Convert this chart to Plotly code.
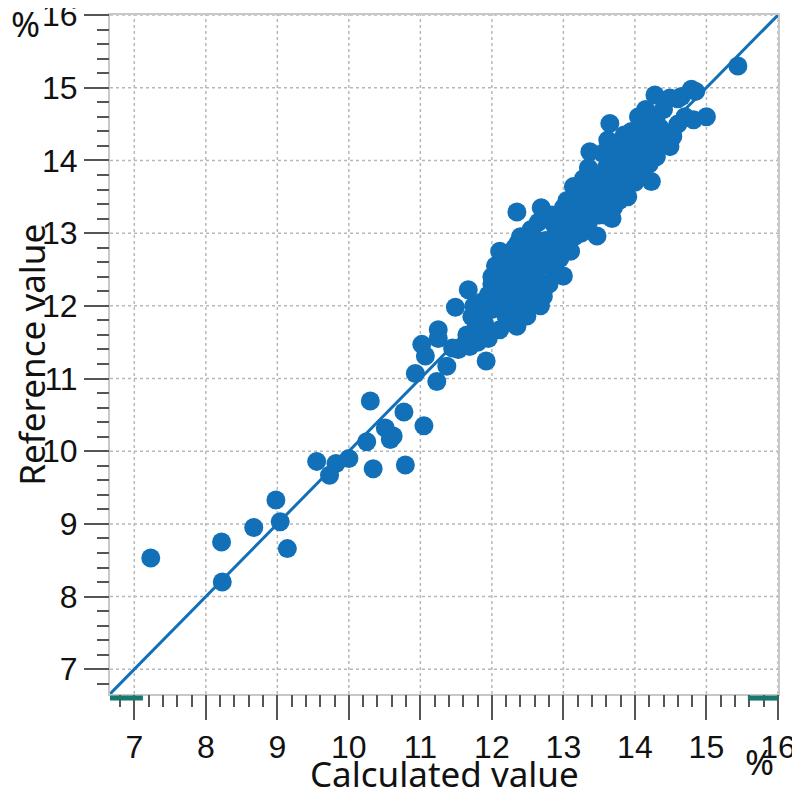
import plotly.graph_objects as go

# calculated vs reference values (%)
calc = [7.23, 8.22, 8.23, 8.67, 8.98, 9.04, 9.14, 9.55, 9.73, 9.82, 10.0, 10.25, 10.34, 10.30,
        10.51, 10.58, 10.62, 10.77, 10.79, 11.05, 10.93, 11.23, 11.37, 11.02, 11.07, 11.25, 11.25,
        11.45, 11.53, 11.60, 11.69, 11.80, 11.49, 11.67, 11.92, 11.72, 11.78, 11.85, 11.88, 11.95,
        11.65, 11.75, 11.90, 12.0, 12.0, 11.82, 11.95,
        12.11, 12.35, 12.49, 12.11, 12.37, 12.05, 12.1, 12.15, 12.2, 12.25, 12.2, 12.3, 12.3, 12.35,
        12.4, 12.4, 12.45, 12.45, 12.5, 12.5, 12.28, 12.15, 12.4, 12.35, 12.22, 12.05, 12.48, 12.0,
        12.12, 12.32,
        12.55, 12.6, 12.6, 12.65, 12.7, 12.72, 12.69, 12.84, 12.75, 12.8, 12.85, 12.9, 12.9, 13.0,
        12.95, 12.55, 12.65, 12.75, 12.8, 12.95, 12.58, 12.68, 13.0, 12.88,
        13.05, 13.1, 13.14, 13.15, 13.2, 13.25, 13.25, 13.3, 13.3, 13.35, 13.37, 13.4, 13.4, 13.45,
        13.47, 13.5, 13.5, 13.05, 13.2, 13.35, 13.45, 13.1, 13.0, 13.28,
        13.55, 13.6, 13.62, 13.65, 13.6, 13.65, 13.7, 13.7, 13.75, 13.75, 13.8, 13.8, 13.85, 13.9,
        13.9, 13.95, 14.0, 14.0, 13.55, 13.85, 13.68, 13.95, 13.58, 13.78,
        14.05, 14.1, 14.1, 14.15, 14.2, 14.23, 14.25, 14.28, 14.3, 14.3, 14.35, 14.4, 14.45, 14.49,
        14.49, 14.53, 14.2, 14.15, 14.05, 14.35,
        14.6, 14.65, 14.7, 14.79, 14.82, 15.0, 14.85, 14.6, 15.44]
ref = [8.53, 8.75, 8.20, 8.95, 9.33, 9.03, 8.66, 9.86, 9.67, 9.83, 9.90, 10.13, 9.76, 10.69,
       10.32, 10.16, 10.21, 10.54, 9.81, 10.35, 11.07, 10.96, 11.17, 11.47, 11.31, 11.67, 11.55,
       11.42, 11.40, 11.45, 11.44, 11.50, 11.98, 12.22, 11.24, 11.85, 11.70, 12.05, 11.90, 12.15,
       11.60, 12.0, 11.75, 12.3, 11.95, 11.62, 11.55,
       11.67, 11.72, 11.86, 12.75, 12.87, 12.1, 12.35, 12.0, 12.25, 12.5, 11.85, 12.1, 12.65, 12.3,
       12.05, 12.5, 12.75, 12.2, 12.4, 12.6, 11.95, 12.6, 12.95, 13.29, 12.45, 12.55, 12.0, 12.4,
       12.2, 12.8,
       12.2, 12.5, 12.8, 12.35, 12.65, 12.13, 13.35, 13.25, 12.9, 12.55, 12.75, 13.0, 12.45, 12.41,
       12.65, 13.05, 13.15, 13.25, 12.3, 13.2, 12.95, 12.0, 12.9, 13.1,
       13.1, 13.3, 13.64, 12.95, 13.2, 13.45, 13.0, 13.6, 13.3, 13.15, 14.12, 13.75, 13.4, 13.55,
       12.96, 13.8, 13.25, 13.45, 13.55, 13.9, 13.35, 12.75, 13.35, 13.75,
       13.6, 13.9, 14.28, 14.51, 13.45, 13.7, 14.05, 13.35, 13.8, 13.55, 14.2, 13.95, 13.65, 14.0,
       13.5, 13.85, 14.2, 13.7, 14.1, 14.35, 13.2, 14.4, 13.25, 13.45,
       14.0, 14.35, 13.85, 14.5, 14.15, 13.71, 14.4, 14.90, 14.6, 14.05, 14.25, 14.7, 14.35, 14.86,
       14.19, 14.33, 13.95, 14.7, 14.6, 14.45,
       14.5, 14.88, 14.6, 14.98, 14.56, 14.60, 14.95, 14.85, 15.30]

axis_min = 6.66
axis_max = 16.001
grid_vals = list(range(7, 17))
# teal range markers under the x axis
marker_ranges = [(6.66, 7.12), (15.58, 16.0)]

blue = "#1170b8"
tick_font = dict(family="Liberation Sans", size=32, color="#111")
title_font = dict(family="Noto Sans", size=35, color="#111")

fig = go.Figure()
# identity line sits on the overlay axes that carry the minor ticks
fig.add_trace(go.Scatter(x=[axis_min, axis_max], y=[axis_min, axis_max], mode="lines",
                         xaxis="x2", yaxis="y2",
                         line=dict(color=blue, width=3), hoverinfo="skip"))
fig.add_trace(go.Scatter(x=calc, y=ref, mode="markers",
                         marker=dict(color=blue, size=19, line=dict(width=0))))

axis_common = dict(
    range=[axis_min, axis_max], tickmode="linear", tick0=0, dtick=1,
    ticks="outside", ticklen=24, tickwidth=2, automargin=False, ticklabeloverflow="allow",
    tickcolor="#555", showline=True, linecolor="#c8c8c8", linewidth=2, mirror=True,
    showgrid=False, zeroline=False, tickfont=tick_font,
)
minor_common = dict(
    range=[axis_min, axis_max], tickmode="linear", tick0=0, dtick=0.2,
    ticks="outside", ticklen=12, tickwidth=2, tickcolor="#555", automargin=False,
    showticklabels=False, showgrid=False, showline=False, zeroline=False,
)

# page body has an 8px margin; keep the page height within the window so no scrollbar appears
fig.update_layout(
    width=792, height=784, showlegend=False,
    plot_bgcolor="white", paper_bgcolor="white",
    margin=dict(l=102, r=22, t=7, b=98),
    xaxis=axis_common,
    yaxis=axis_common,
    xaxis2=dict(minor_common, overlaying="x", anchor="y", side="bottom"),
    yaxis2=dict(minor_common, overlaying="y", anchor="x", side="left"),
)

grid_line = dict(color="#b8b8b8", width=1.5, dash="dot")
for v in grid_vals:
    fig.add_shape(type="line", xref="x", yref="paper", x0=v, x1=v, y0=0, y1=1,
                  line=grid_line, layer="below")
    fig.add_shape(type="line", xref="paper", yref="y", x0=0, x1=1, y0=v, y1=v,
                  line=grid_line, layer="below")

for x0, x1 in marker_ranges:
    fig.add_shape(type="line", xref="x", yref="paper", x0=x0, x1=x1, y0=-0.006, y1=-0.006,
                  line=dict(color="#17786e", width=5))

fig.add_annotation(text="Calculated value", xref="paper", yref="paper", x=0.5, y=-0.117,
                   showarrow=False, font=title_font, xanchor="center", yanchor="middle")
fig.add_annotation(text="Reference value", xref="paper", yref="paper", x=-0.118, y=0.5,
                   textangle=-90, showarrow=False, font=title_font,
                   xanchor="center", yanchor="middle")
fig.add_annotation(text="%", xref="paper", yref="paper", x=-0.127, y=0.988, showarrow=False,
                   font=title_font, xanchor="center", yanchor="middle")
fig.add_annotation(text="%", xref="paper", yref="paper", x=0.973, y=-0.1, showarrow=False,
                   font=title_font, xanchor="center", yanchor="middle")

fig.write_html("out.html")
